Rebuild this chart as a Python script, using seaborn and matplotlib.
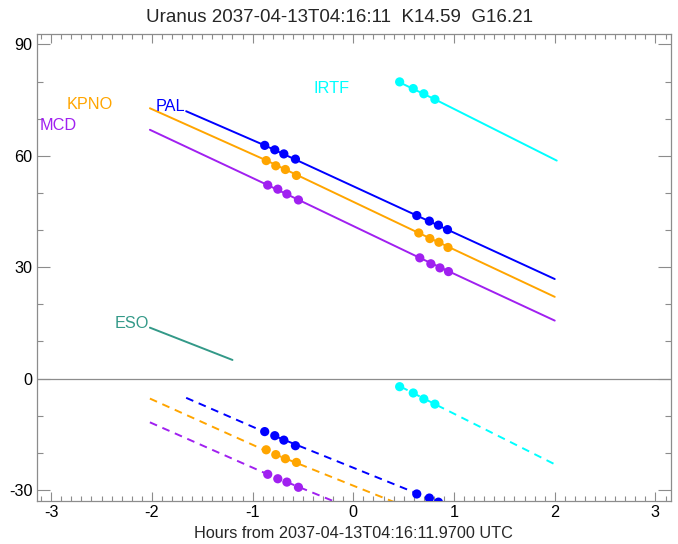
import pandas as pd
import matplotlib
matplotlib.use("Agg")
import matplotlib.pyplot as plt
from matplotlib.ticker import MultipleLocator
import seaborn as sns

# --- data (hours from reference time, altitude in deg) ---
title = "Uranus 2037-04-13T04:16:11  K14.59  G16.21"
xlabel = "Hours from 2037-04-13T04:16:11.9700 UTC"

sites = ["PAL", "KPNO", "MCD", "IRTF", "ESO"]
colors = {"PAL": "#0000ff", "KPNO": "#ffa500", "MCD": "#a020f0",
          "IRTF": "#00ffff", "ESO": "#339988"}

# solid curves
pal_hr = [-1.66, -0.88, 0.63, 2.0]
pal_alt = [72.0, 62.8, 43.9, 26.8]
kpno_hr = [-2.02, -0.86, 0.65, 2.0]
kpno_alt = [72.8, 58.7, 39.2, 22.0]
mcd_hr = [-2.02, -0.85, 0.66, 2.0]
mcd_alt = [67.0, 52.1, 32.5, 15.6]
irtf_hr = [0.45, 0.81, 2.02]
irtf_alt = [79.9, 75.2, 58.7]
eso_hr = [-2.02, -1.20]
eso_alt = [13.7, 5.0]

# dashed curves
pal_hr_d = [-1.66, -0.89, 0.645, 1.0]
pal_alt_d = [-5.2, -14.3, -31.1, -35.0]
kpno_hr_d = [-2.02, -0.89, 0.38, 0.6]
kpno_alt_d = [-5.4, -19.2, -33.0, -35.4]
mcd_hr_d = [-2.02, -0.85, -0.20, 0.0]
mcd_alt_d = [-11.8, -25.8, -33.0, -35.3]
irtf_hr_d = [0.47, 0.81, 2.0]
irtf_alt_d = [-2.2, -6.9, -23.1]

# event dots
pal_dot_hr = [-0.88, -0.78, -0.69, -0.575, 0.63, 0.755, 0.845, 0.935]
pal_dot_alt = [62.8, 61.6, 60.5, 59.1, 43.9, 42.4, 41.3, 40.1]
pal_dot_alt_d = [-14.3, -15.4, -16.6, -18.1, -31.1, -32.2, -33.3, -34.5]
kpno_dot_hr = [-0.865, -0.77, -0.675, -0.565, 0.65, 0.76, 0.85, 0.94]
kpno_dot_alt = [58.7, 57.3, 56.3, 54.7, 39.2, 37.7, 36.7, 35.3]
kpno_dot_alt_d = [-19.2, -20.5, -21.6, -22.6, -36.0, -37.2, -38.2, -39.2]
mcd_dot_hr = [-0.85, -0.75, -0.66, -0.545, 0.66, 0.77, 0.86, 0.945]
mcd_dot_alt = [52.1, 51.0, 49.7, 48.1, 32.5, 30.9, 29.8, 28.8]
mcd_dot_alt_d = [-25.8, -27.0, -27.9, -29.3, -42.0, -43.2, -44.2, -45.1]
irtf_dot_hr = [0.46, 0.595, 0.70, 0.81]
irtf_dot_alt = [79.9, 78.1, 76.7, 75.2]
irtf_dot_alt_d = [-2.2, -3.9, -5.5, -6.9]

# label anchor (right edge, baseline)
label_hr = {"PAL": -1.667, "KPNO": -2.39, "MCD": -2.75, "IRTF": -0.035, "ESO": -2.025}
label_alt = {"PAL": 72.0, "KPNO": 72.7, "MCD": 67.0, "IRTF": 76.9, "ESO": 13.7}

solid = {"PAL": (pal_hr, pal_alt), "KPNO": (kpno_hr, kpno_alt),
         "MCD": (mcd_hr, mcd_alt), "IRTF": (irtf_hr, irtf_alt),
         "ESO": (eso_hr, eso_alt)}
dashed = {"PAL": (pal_hr_d, pal_alt_d), "KPNO": (kpno_hr_d, kpno_alt_d),
          "MCD": (mcd_hr_d, mcd_alt_d), "IRTF": (irtf_hr_d, irtf_alt_d)}
dots = {"PAL": (pal_dot_hr, pal_dot_alt, pal_dot_alt_d),
        "KPNO": (kpno_dot_hr, kpno_dot_alt, kpno_dot_alt_d),
        "MCD": (mcd_dot_hr, mcd_dot_alt, mcd_dot_alt_d),
        "IRTF": (irtf_dot_hr, irtf_dot_alt, irtf_dot_alt_d)}

# --- plot ---
sns.set_style("ticks")
plt.rcParams["font.family"] = ["Liberation Sans", "DejaVu Sans"]
plt.rcParams["axes.unicode_minus"] = False
grey = "#8c8c8c"

fig = plt.figure(figsize=(6.78, 5.44), dpi=100)
ax = fig.add_axes([0.054, 0.079, 0.935, 0.8585])

ax.axhline(0, color=grey, lw=0.9, zorder=1)

for site in sites:
    hr, alt = solid[site]
    sns.lineplot(x=hr, y=alt, color=colors[site], lw=1.4, sort=False,
                 estimator=None, ax=ax)
    if site in dashed:
        hr, alt = dashed[site]
        sns.lineplot(x=hr, y=alt, color=colors[site], lw=1.4, sort=False,
                     estimator=None, linestyle=(0, (4, 3)), ax=ax)
    if site in dots:
        hr, up, lo = dots[site]
        df = pd.DataFrame({"hr": hr + hr, "alt": up + lo})
        sns.scatterplot(data=df, x="hr", y="alt", color=colors[site], s=44,
                        edgecolor="none", ax=ax, zorder=3)
    ax.text(label_hr[site], label_alt[site], site, color=colors[site],
            fontsize=11.7, ha="right", va="baseline")

ax.set_xlim(-3.145, 3.15)
ax.set_ylim(-33, 92.8)
ax.xaxis.set_major_locator(MultipleLocator(1))
ax.xaxis.set_minor_locator(MultipleLocator(0.1))
ax.yaxis.set_major_locator(MultipleLocator(30))
ax.yaxis.set_minor_locator(MultipleLocator(10))

ax.tick_params(which="both", direction="in", top=True, right=True,
               color=grey, labelcolor="black", labelsize=11.7, pad=3)
ax.tick_params(axis="x", which="major", length=6.7, width=0.8)
ax.tick_params(axis="x", which="minor", length=3.3, width=0.8)
ax.tick_params(axis="y", which="major", length=9.1, width=0.8)
ax.tick_params(axis="y", which="minor", length=4.6, width=0.8)
for sp in ax.spines.values():
    sp.set_color(grey)
    sp.set_linewidth(0.9)

ax.set_xlabel(xlabel, fontsize=11.7, labelpad=4.5)
ax.set_ylabel("")
fig.text(0.5, 0.967, title, fontsize=13.5, ha="center", va="center")

fig.savefig("out.png", dpi=100)
